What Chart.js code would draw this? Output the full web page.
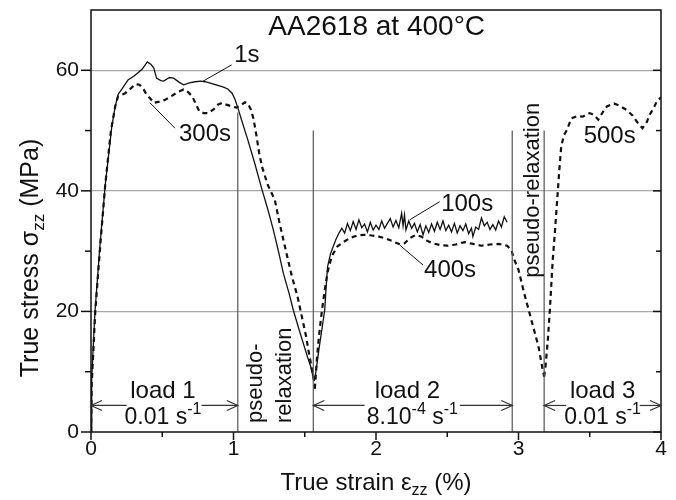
<!DOCTYPE html>
<html>
<head>
<meta charset="utf-8">
<script src="https://cdn.jsdelivr.net/npm/chart.js@4/dist/chart.umd.min.js"></script>
<style>
  html, body { margin: 0; padding: 0; background: #fff; }
  canvas { display: block; }
</style>
</head>
<body>
<canvas id="stressChart" width="676" height="500"></canvas>
<script>
// load 1, solid curve (1s)
const strain1s = [0, 0.005, 0.028, 0.063, 0.10, 0.145, 0.17, 0.19, 0.22, 0.26, 0.30, 0.33, 0.36, 0.395, 0.42, 0.44, 0.46, 0.49, 0.51, 0.55, 0.58, 0.62, 0.65, 0.69, 0.73, 0.77, 0.80, 0.85, 0.89, 0.93, 0.96, 0.99, 1.01, 1.03, 1.06, 1.10, 1.15, 1.20, 1.24, 1.28, 1.32, 1.35, 1.39, 1.42, 1.46, 1.49, 1.52, 1.54, 1.555, 1.565];
const stress1s = [0, 9, 20, 31, 41, 50.5, 54, 56, 57, 58.4, 59, 59.6, 60.2, 61.4, 61, 60.4, 58.7, 58.3, 58.2, 58.8, 58.7, 58, 57.6, 57.9, 58.1, 58.2, 58.1, 57.8, 57.5, 57.2, 56.9, 56.2, 55.2, 53.8, 51.5, 48.5, 44.5, 40.2, 37, 33.5, 29.5, 26.3, 23, 20.2, 17, 14.7, 12.4, 11, 9.5, 8.5];

// load 1, dashed curve (300s)
const strain300s = [0, 0.005, 0.03, 0.065, 0.10, 0.14, 0.17, 0.19, 0.24, 0.28, 0.31, 0.34, 0.37, 0.39, 0.42, 0.44, 0.48, 0.52, 0.57, 0.61, 0.65, 0.68, 0.71, 0.74, 0.76, 0.79, 0.82, 0.86, 0.89, 0.92, 0.95, 0.99, 1.02, 1.05, 1.08, 1.10, 1.12, 1.14, 1.16, 1.18, 1.20, 1.24, 1.29, 1.32, 1.35, 1.38, 1.41, 1.45, 1.48, 1.51, 1.53, 1.55, 1.565, 1.57];
const stress300s = [0, 8, 20, 31, 41, 50, 54, 55.7, 56.2, 57, 57.7, 57.6, 56.8, 56, 55.2, 54.6, 54.8, 55.1, 55.8, 56.4, 56.8, 56.4, 55.7, 54.2, 53.2, 52.9, 52.9, 53.5, 54.3, 54.6, 54.3, 54, 53.8, 54.2, 54.7, 54.5, 53.6, 52, 49.3, 46.3, 44, 41, 38.5, 35, 31.9, 28.8, 25.8, 22.4, 19.1, 15.8, 13, 10.5, 8.5, 7.2];

// load 2, solid curve (100s)
const strain100s = [1.565, 1.575, 1.59, 1.60, 1.62, 1.64, 1.65, 1.66, 1.68, 1.70, 1.72, 1.74, 1.76, 1.78, 1.80, 1.82, 1.84, 1.86, 1.88, 1.90, 1.92, 1.94, 1.96, 1.98, 2.00, 2.02, 2.04, 2.06, 2.08, 2.10, 2.12, 2.14, 2.16, 2.18, 2.19, 2.20, 2.21, 2.23, 2.25, 2.27, 2.29, 2.31, 2.33, 2.35, 2.37, 2.39, 2.41, 2.43, 2.45, 2.47, 2.49, 2.51, 2.53, 2.55, 2.57, 2.59, 2.61, 2.63, 2.65, 2.67, 2.68, 2.70, 2.72, 2.74, 2.76, 2.78, 2.80, 2.82, 2.84, 2.86, 2.88, 2.90, 2.92];
const stress100s = [8.5, 9.5, 12, 13.8, 17, 20.2, 24, 27.4, 29.5, 30.8, 32, 33, 33.8, 33.0, 34.6, 33.4, 34.9, 33.6, 35.2, 33.9, 34.5, 33.2, 34.8, 33.5, 34.3, 33.6, 35.0, 33.8, 34.6, 35.4, 34.0, 35.1, 33.9, 36.3, 34.2, 36.0, 33.5, 35.0, 33.8, 34.6, 33.2, 34.4, 32.7, 34.2, 33.1, 34.5, 33.3, 34.8, 33.6, 35.0, 33.4, 34.3, 33.2, 34.6, 33.0, 34.2, 33.4, 34.5, 32.9, 33.8, 32.4, 34.0, 33.6, 35.5, 34.2, 34.8, 33.6, 34.4, 33.5, 35.0, 34.0, 35.7, 34.8];

// load 2 + relaxation, dashed curve (400s)
const strain400s = [1.57, 1.575, 1.585, 1.60, 1.62, 1.64, 1.66, 1.69, 1.73, 1.77, 1.82, 1.87, 1.92, 1.97, 2.02, 2.07, 2.12, 2.17, 2.20, 2.24, 2.28, 2.32, 2.36, 2.40, 2.45, 2.50, 2.56, 2.62, 2.68, 2.74, 2.80, 2.86, 2.92, 2.95, 2.97, 3.00, 3.04, 3.09, 3.14, 3.17, 3.18];
const stress400s = [7.2, 8.5, 12, 16, 20, 23.5, 26.5, 29.2, 30.8, 31.5, 32.2, 32.6, 32.7, 32.6, 32.4, 32.1, 31.6, 31.1, 31.3, 32.2, 32.7, 32.4, 31.7, 31.3, 31.0, 30.9, 31.1, 31.5, 31.2, 30.9, 31.1, 31.2, 30.9, 30.2, 28.6, 26.9, 23, 18.6, 14.2, 10.3, 9.2];

// load 3, dashed curve (500s)
const strain500s = [3.18, 3.19, 3.205, 3.22, 3.24, 3.255, 3.27, 3.285, 3.30, 3.32, 3.34, 3.37, 3.41, 3.45, 3.50, 3.53, 3.56, 3.59, 3.62, 3.67, 3.71, 3.76, 3.80, 3.83, 3.87, 3.90, 3.92, 3.95, 3.97, 4.0];
const stress500s = [9.2, 11, 15, 20.2, 28.5, 33, 38, 43, 47.4, 49.3, 50.1, 52, 52.4, 52.3, 52.9, 52.6, 51.8, 53, 54, 54.5, 54.1, 53.4, 52.5, 51.5, 50.4, 51.4, 52.6, 53.8, 54.8, 55.5];

const xTicks = [0, 1, 2, 3, 4];
const yTicks = [0, 20, 40, 60];

const FONT = '"Liberation Sans", Arial, sans-serif';
const INK = '#111';

const pts = (xs, ys) => xs.map((x, i) => ({ x: x, y: ys[i] }));

function solid(label, xs, ys) {
    return { label: label, data: pts(xs, ys), showLine: true, pointRadius: 0,
             borderColor: INK, borderWidth: 1.3, tension: 0 };
}
function dashed(label, xs, ys) {
    return { label: label, data: pts(xs, ys), showLine: true, pointRadius: 0,
             borderColor: INK, borderWidth: 2.2, borderDash: [5, 4], tension: 0 };
}

// text with sub/superscript pieces: [[text, ''|'sub'|'sup'], ...]
function richText(ctx, parts, x, y, size, align) {
    const fontFor = m => (m ? Math.round(size * 0.68) : size) + 'px ' + FONT;
    let w = 0;
    parts.forEach(p => { ctx.font = fontFor(p[1]); w += ctx.measureText(p[0]).width; });
    let cx = align === 'left' ? x : x - w / 2;
    ctx.textAlign = 'left';
    ctx.textBaseline = 'middle';
    parts.forEach(p => {
        ctx.font = fontFor(p[1]);
        let dy = 0;
        if (p[1] === 'sub') dy = size * 0.32;
        if (p[1] === 'sup') dy = -size * 0.35;
        ctx.fillText(p[0], cx, y + dy);
        cx += ctx.measureText(p[0]).width;
    });
}

const overlay = {
    id: 'overlay',
    afterDatasetsDraw(chart) {
        const { ctx, chartArea: a, scales: { x, y } } = chart;
        const X = v => x.getPixelForValue(v);
        const Y = v => y.getPixelForValue(v);
        const line = (x1, y1, x2, y2) => { ctx.beginPath(); ctx.moveTo(x1, y1); ctx.lineTo(x2, y2); ctx.stroke(); };

        ctx.save();

        // load / relaxation boundaries
        ctx.strokeStyle = '#555';
        ctx.lineWidth = 1.2;
        [[1.03, 53], [1.56, 50], [2.956, 50], [3.18, 50]].forEach(m => line(X(m[0]), Y(0), X(m[0]), Y(m[1])));

        // frame and ticks
        ctx.strokeStyle = INK;
        ctx.lineWidth = 1.5;
        ctx.strokeRect(a.left, a.top, a.right - a.left, a.bottom - a.top);
        for (let i = 0; i <= 8; i++) {
            const v = i * 0.5;
            line(X(v), a.bottom, X(v), a.bottom + (i % 2 === 0 ? 8 : 5));
        }
        for (let v = 0; v <= 60; v += 10) {
            const major = v % 20 === 0;
            line(a.left - (major ? 10 : 6), Y(v), a.left, Y(v));
            line(a.right - (major ? 8 : 5), Y(v), a.right, Y(v));
        }

        // arrows for load segments
        ctx.strokeStyle = '#333';
        ctx.lineWidth = 1.2;
        const arrowY = Y(4.4);
        [[0.25, 0], [0.776, 1.03], [1.92, 1.56], [2.588, 2.956], [3.335, 3.18], [3.85, 4.0]].forEach(s => {
            const p1 = X(s[0]), p2 = X(s[1]);
            const d = Math.sign(p2 - p1);
            line(p1, arrowY, p2, arrowY);
            ctx.beginPath();
            ctx.moveTo(p2 - d * 11, arrowY - 5);
            ctx.lineTo(p2, arrowY);
            ctx.lineTo(p2 - d * 11, arrowY + 5);
            ctx.stroke();
        });

        // leader lines for curve labels
        ctx.strokeStyle = INK;
        ctx.lineWidth = 1;
        [[0.987, 60.9, 0.787, 58.2], [0.589, 50.4, 0.414, 54.6],
         [2.447, 38.2, 2.237, 35.2], [2.33, 27.7, 2.167, 31.0]].forEach(l => line(X(l[0]), Y(l[1]), X(l[2]), Y(l[3])));

        ctx.fillStyle = INK;

        // title
        richText(ctx, [['AA2618 at 400°C', '']], X(2.005), Y(67.2), 28, 'center');

        // curve labels
        richText(ctx, [['1s', '']], X(1.094), Y(62.4), 24, 'center');
        richText(ctx, [['300s', '']], X(0.80), Y(49.3), 24, 'center');
        richText(ctx, [['100s', '']], X(2.64), Y(37.7), 24, 'center');
        richText(ctx, [['400s', '']], X(2.52), Y(26.8), 24, 'center');
        richText(ctx, [['500s', '']], X(3.64), Y(49.0), 24, 'center');

        // load labels
        richText(ctx, [['load 1', '']], X(0.505), Y(6.8), 24, 'center');
        richText(ctx, [['0.01 s', ''], ['-1', 'sup']], X(0.505), Y(2.3), 23, 'center');
        richText(ctx, [['load 2', '']], X(2.22), Y(6.8), 24, 'center');
        richText(ctx, [['8.10', ''], ['-4', 'sup'], [' s', ''], ['-1', 'sup']], X(2.255), Y(2.3), 23, 'center');
        richText(ctx, [['load 3', '']], X(3.59), Y(6.8), 24, 'center');
        richText(ctx, [['0.01 s', ''], ['-1', 'sup']], X(3.59), Y(2.3), 23, 'center');

        // vertical relaxation labels
        const vText = (str, xv, yv) => {
            ctx.save();
            ctx.translate(X(xv), Y(yv));
            ctx.rotate(-Math.PI / 2);
            richText(ctx, [[str, '']], 0, 0, 22, 'left');
            ctx.restore();
        };
        vText('pseudo-', 1.16, 1.5);
        vText('relaxation', 1.36, 1.5);
        vText('pseudo-relaxation', 3.10, 25.6);

        // axis titles
        richText(ctx, [['True strain ε', ''], ['zz', 'sub'], [' (%)', '']], (a.left + a.right) / 2, 483, 24, 'center');
        ctx.save();
        ctx.translate(31, 258);
        ctx.rotate(-Math.PI / 2);
        richText(ctx, [['True stress σ', ''], ['zz', 'sub'], [' (MPa)', '']], 0, 0, 25, 'center');
        ctx.restore();

        ctx.restore();
    }
};

new Chart(document.getElementById('stressChart'), {
    type: 'scatter',
    data: {
        datasets: [
            solid('1s', strain1s, stress1s),
            dashed('300s', strain300s, stress300s),
            solid('100s', strain100s, stress100s),
            dashed('400s', strain400s, stress400s),
            dashed('500s', strain500s, stress500s)
        ]
    },
    options: {
        responsive: false,
        animation: false,
        layout: { padding: { top: 10, right: 15, left: 0, bottom: 0 } },
        plugins: { legend: { display: false }, tooltip: { enabled: false } },
        scales: {
            x: {
                type: 'linear', min: 0, max: 4,
                afterFit: s => { s.height = 68; s.paddingLeft = 0; s.paddingRight = 0; },
                afterBuildTicks: s => { s.ticks = xTicks.map(v => ({ value: v })); },
                grid: { display: false, drawTicks: false },
                border: { display: false },
                ticks: { padding: 5, color: INK, font: { family: FONT, size: 21 }, maxRotation: 0, autoSkip: false }
            },
            y: {
                type: 'linear', min: 0, max: 70,
                afterFit: s => { s.width = 91; s.paddingTop = 0; s.paddingBottom = 0; },
                afterBuildTicks: s => { s.ticks = yTicks.map(v => ({ value: v })); },
                grid: {
                    drawTicks: false,
                    lineWidth: 1.2,
                    color: c => (c.tick && c.tick.value > 0 ? '#a8a8a8' : 'rgba(0,0,0,0)')
                },
                border: { display: false },
                ticks: { padding: 12, color: INK, font: { family: FONT, size: 21 } }
            }
        }
    },
    plugins: [overlay]
});
</script>
</body>
</html>
